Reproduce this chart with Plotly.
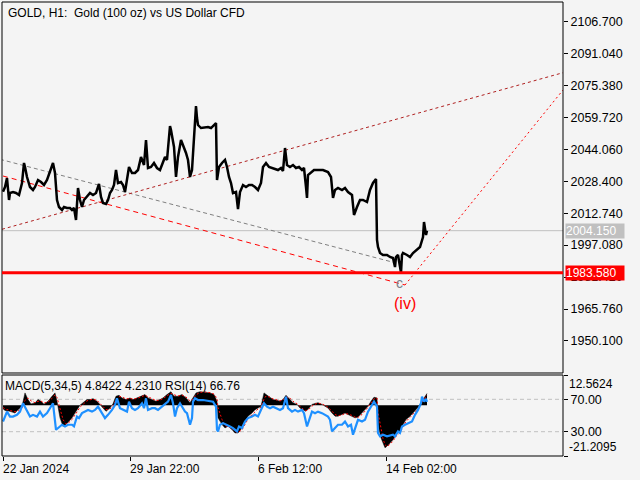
import plotly.graph_objects as go

# ---------------- data ----------------
price_bars = [0, 2, 4, 6, 7, 10, 13, 16, 19, 21, 22, 24, 27, 30, 32, 35, 38, 41, 44, 47, 50, 51, 52, 54, 56,
              59, 61, 64, 67, 69, 71, 73, 74, 75, 77, 79, 81, 84, 87, 90, 93, 96, 98, 100, 103, 105, 107, 109,
              111, 113, 115, 118, 120, 122, 124, 126, 129, 132, 135, 138, 141, 143, 145, 148, 151, 154, 157,
              160, 162, 164, 167, 168, 169, 171, 173, 175, 178, 181, 183, 185, 187, 189, 191, 193, 194, 195,
              198, 202, 205, 208, 211, 213, 214, 216, 219, 222, 224, 226, 228, 230, 233, 235, 237, 240, 243,
              246, 249, 252, 255, 258, 260, 263, 266, 269, 272, 275, 278, 280, 282, 284, 287, 290, 293, 296,
              299, 301, 303, 304, 305, 308, 311, 315, 320, 325, 328, 330, 332, 335, 339, 342, 345, 349, 351,
              354, 357, 360, 364, 367, 370, 373, 374, 375, 377, 380, 384, 387, 390, 392, 393, 395, 398, 399,
              400, 404, 407, 410, 414, 417, 420, 421, 423, 424]
price_close = [2023.25, 2025.54, 2029.95, 2019.17, 2022.60, 2023.09, 2022.60, 2021.62, 2027.50, 2037.30,
               2035.33, 2030.44, 2025.54, 2024.07, 2025.54, 2028.97, 2027.99, 2026.52, 2028.97, 2032.89,
               2037.30, 2034.85, 2032.40, 2019.17, 2015.74, 2014.27, 2015.74, 2015.25, 2015.25, 2014.27,
               2015.25, 2009.37, 2015.25, 2025.05, 2019.17, 2015.74, 2019.17, 2020.64, 2022.60, 2021.62,
               2022.60, 2027.01, 2020.64, 2017.70, 2017.21, 2019.17, 2022.60, 2024.07, 2026.52, 2033.87,
               2027.50, 2027.99, 2026.52, 2023.09, 2030.44, 2035.33, 2032.40, 2032.40, 2033.87, 2040.24,
               2036.32, 2048.56, 2034.85, 2035.33, 2037.30, 2034.85, 2033.87, 2037.79, 2040.24, 2038.77,
               2055.42, 2053.46, 2050.03, 2045.13, 2030.44, 2040.24, 2048.56, 2045.13, 2042.19, 2038.77,
               2030.44, 2033.87, 2051.99, 2065.22, 2059.34, 2055.91, 2054.44, 2054.93, 2054.93, 2054.44,
               2055.91, 2056.89, 2028.97, 2035.33, 2037.30, 2038.77, 2035.33, 2030.44, 2027.50, 2022.60,
               2023.09, 2014.76, 2023.09, 2026.52, 2025.54, 2026.52, 2026.52, 2025.54, 2024.07, 2027.50,
               2035.33, 2037.30, 2035.33, 2034.85, 2034.36, 2033.87, 2034.85, 2033.38, 2044.64, 2036.32,
               2035.33, 2036.32, 2034.85, 2035.33, 2033.87, 2034.85, 2025.54, 2020.15, 2031.42, 2032.89,
               2033.87, 2033.87, 2033.87, 2032.89, 2030.44, 2020.15, 2024.07, 2025.05, 2024.07, 2025.05,
               2023.09, 2021.62, 2011.83, 2015.74, 2019.17, 2019.17, 2018.19, 2024.07, 2027.50, 2029.46,
               1999.57, 1996.14, 1993.21, 1992.23, 1992.23, 1991.25, 1990.75, 1986.34, 1991.25, 1992.23,
               1983.58, 1992.23, 1993.21, 1992.23, 1991.25, 1993.21, 1994.68, 1996.14, 2001.04, 2008.39,
               2002.03, 2004.15]

rsi_bars = [0, 4, 7, 10, 14, 17, 20, 24, 27, 30, 34, 37, 40, 44, 47, 50, 53, 55, 59, 62, 65, 69, 71, 74, 76,
            79, 82, 85, 89, 92, 95, 99, 102, 105, 109, 112, 114, 117, 120, 124, 126, 129, 132, 135, 139, 141,
            143, 145, 149, 152, 155, 159, 162, 165, 168, 170, 172, 174, 177, 180, 182, 184, 187, 189, 190,
            192, 195, 200, 205, 210, 213, 214, 215, 217, 220, 224, 227, 230, 234, 236, 239, 242, 245, 249,
            252, 255, 259, 261, 264, 267, 270, 274, 277, 280, 283, 285, 289, 292, 295, 299, 301, 304, 306,
            309, 312, 315, 319, 322, 325, 327, 329, 332, 335, 339, 342, 345, 348, 350, 353, 355, 359, 362,
            365, 369, 371, 374, 375, 377, 380, 384, 387, 390, 392, 395, 397, 399, 402, 405, 409, 412, 415,
            418, 419, 421, 423, 424]
rsi_vals = [42.6, 54.8, 48.7, 48.7, 50.8, 54.8, 65.1, 54.8, 48.7, 50.8, 48.7, 54.8, 48.7, 52.9, 59.0, 65.1,
            32.4, 34.5, 38.6, 36.5, 38.6, 38.6, 36.5, 48.7, 46.8, 52.9, 54.8, 56.9, 54.8, 56.9, 60.9, 52.9,
            46.8, 50.8, 56.9, 63.0, 71.2, 59.0, 56.9, 54.8, 67.1, 59.0, 56.9, 59.0, 65.1, 59.0, 71.2, 56.9,
            59.0, 59.0, 56.9, 60.9, 63.0, 67.1, 75.3, 65.1, 48.7, 59.0, 65.1, 59.0, 54.8, 52.9, 38.6, 46.8,
            67.1, 71.2, 69.1, 69.1, 67.9, 67.1, 60.9, 32.4, 30.4, 38.6, 40.6, 38.6, 36.5, 34.5, 30.4, 36.5,
            34.5, 42.6, 46.8, 48.7, 50.8, 48.7, 59.0, 65.1, 60.9, 59.0, 60.9, 59.0, 56.9, 59.0, 73.2, 59.0,
            54.8, 56.9, 54.8, 56.9, 52.9, 36.5, 44.7, 54.8, 52.9, 54.8, 52.9, 50.8, 48.7, 44.7, 30.4, 34.5,
            38.6, 38.6, 42.6, 36.5, 38.6, 26.3, 38.6, 44.7, 42.6, 44.7, 54.8, 63.0, 67.1, 60.9, 28.4, 24.3,
            26.3, 24.3, 25.5, 26.3, 24.3, 30.4, 28.4, 36.5, 38.6, 40.6, 42.6, 50.8, 56.9, 65.1, 73.2, 67.1,
            70.5, 66.76]

macd_bars = [0, 2, 7, 12, 15, 19, 22, 25, 28, 32, 35, 38, 41, 45, 49, 52, 54, 57, 60, 63, 66, 69, 72, 75, 77,
             80, 84, 87, 90, 94, 97, 100, 103, 107, 110, 113, 116, 119, 123, 127, 130, 134, 138, 142, 145,
             149, 153, 157, 160, 164, 168, 171, 175, 179, 183, 187, 190, 193, 197, 202, 207, 211, 214, 215,
             219, 222, 225, 229, 232, 235, 239, 242, 245, 249, 252, 255, 258, 261, 263, 267, 270, 274, 277,
             280, 283, 287, 290, 294, 297, 300, 303, 306, 309, 312, 315, 319, 322, 325, 329, 332, 335, 339,
             342, 345, 349, 352, 355, 359, 362, 365, 368, 371, 374, 375, 378, 380, 382, 384, 387, 390, 393,
             397, 400, 403, 407, 410, 413, 416, 418, 421, 423, 424]
macd_hist = [-1.5, -2.2, -2.6, -3.3, -1.9, -0.5, 5.1, 2.3, 0.5, 0.9, 2.3, 1.6, 0.4, 1.6, 3.7, 5.1, 1.6, -5.3,
             -8.8, -8.1, -6.7, -5.3, -3.3, -1.2, 0.0, 1.0, 2.3, 2.3, 2.7, 1.6, 0.0, -1.2, -2.6, -1.2, 0.6, 3.7,
             4.1, 3.0, 2.3, 3.0, 2.3, 3.0, 3.7, 4.4, 3.0, 2.3, 1.6, 2.3, 3.0, 4.4, 5.6, 3.7, 3.7, 4.4, 3.0,
             1.0, 3.0, 5.1, 5.6, 5.5, 5.1, 4.4, 1.6, -5.3, -8.1, -9.5, -8.8, -10.2, -11.6, -11.6, -9.5, -6.7,
             -4.6, -3.3, -1.9, -1.2, -0.5, 5.1, 4.4, 3.0, 2.3, 2.0, 1.6, 2.3, 4.1, 2.3, 1.0, 0.3, -1.2, -1.9,
             -2.6, -1.2, 0.3, 0.7, 1.0, 0.3, -0.5, -1.2, -3.3, -4.6, -4.6, -3.9, -3.3, -3.9, -4.6, -5.3, -5.0,
             -3.3, -1.9, -0.5, 1.6, 3.3, 3.0, -8.1, -13.7, -15.8, -17.8, -17.1, -15.8, -14.4, -12.3, -10.9,
             -8.1, -6.0, -4.6, -3.3, -1.9, -0.5, 1.0, 3.0, 4.4, 4.8422]
macd_signal = [-1.0, -1.6, -2.2, -2.8, -2.5, -1.2, 2.0, 3.0, 1.8, 1.0, 1.6, 1.7, 0.9, 1.3, 2.8, 4.3, 3.2,
               -1.5, -6.0, -7.8, -7.2, -6.0, -4.3, -2.2, -0.8, 0.5, 1.8, 2.2, 2.5, 2.0, 0.8, -0.5, -1.9,
               -1.6, -0.3, 2.3, 3.6, 3.4, 2.6, 2.8, 2.5, 2.8, 3.4, 4.1, 3.5, 2.7, 1.9, 2.1, 2.7, 3.9, 5.0,
               4.3, 3.8, 4.2, 3.4, 1.8, 2.4, 4.3, 5.3, 5.5, 5.2, 4.6, 2.8, -1.0, -6.0, -8.5, -8.9, -9.7,
               -11.0, -11.4, -10.3, -8.0, -5.8, -4.0, -2.6, -1.6, -0.8, 2.5, 3.8, 3.3, 2.6, 2.2, 1.8, 2.0,
               3.4, 2.9, 1.6, 0.6, -0.6, -1.6, -2.3, -1.7, -0.4, 0.4, 0.8, 0.5, -0.1, -0.9, -2.5, -3.9,
               -4.4, -4.1, -3.5, -3.7, -4.3, -5.0, -5.1, -3.9, -2.5, -1.0, 0.9, 2.6, 3.0, -3.0, -10.5,
               -14.0, -16.5, -17.3, -16.3, -15.0, -13.0, -11.5, -9.0, -6.8, -5.1, -3.8, -2.4, -1.0, 0.5,
               2.3, 3.8, 4.231]

price_ticks = [2106.700, 2091.040, 2075.380, 2059.720, 2044.060, 2028.400, 2012.740,
               1997.080, 1981.420, 1965.760, 1950.100]
time_tick_bars = [0, 127, 255, 383]
time_tick_labels = ["22 Jan 2024", "29 Jan 22:00", "6 Feb 12:00", "14 Feb 02:00"]

last_price = 2004.150
support_level = 1983.580
macd_max = 12.5624
macd_min = -21.2095
rsi_levels = [70, 30]

# chart objects (trendline end points: bar index, price)
grey_line_bars, grey_line_prices = [-3, 393], [2039.11, 1988.31]
red_dash_bars, red_dash_prices = [0, 402], [2030.93, 1977.53]
red_dot_bars, red_dot_prices = [402, 560], [1977.53, 2073.06]
brown_dot_bars, brown_dot_prices = [-1, 560], [2004.82, 2081.53]
wave_c = (396, 1978.3)
wave_iv = (402, 1968.46)

FONT = "Liberation Sans"
BG = "#f4f4f4"
main_bottom = 0.18282
ind_top = 0.17841

fig = go.Figure()

# main panel lines
fig.add_trace(go.Scatter(x=grey_line_bars, y=grey_line_prices, mode="lines",
                         line=dict(color="#808080", width=1, dash="4px,3px"), xaxis="x", yaxis="y"))
fig.add_trace(go.Scatter(x=red_dash_bars, y=red_dash_prices, mode="lines",
                         line=dict(color="#ff0000", width=1, dash="5px,4px"), xaxis="x", yaxis="y"))
fig.add_trace(go.Scatter(x=red_dot_bars, y=red_dot_prices, mode="lines",
                         line=dict(color="#ff0000", width=1, dash="2px,3px"), xaxis="x", yaxis="y"))
fig.add_trace(go.Scatter(x=brown_dot_bars, y=brown_dot_prices, mode="lines",
                         line=dict(color="#b02020", width=1, dash="3px,3px"), xaxis="x", yaxis="y"))
fig.add_trace(go.Scatter(x=price_bars, y=price_close, mode="lines",
                         line=dict(color="black", width=2.5), xaxis="x", yaxis="y"))

# indicator panel
fig.add_trace(go.Scatter(x=macd_bars, y=macd_hist, mode="lines", fill="tozeroy",
                         fillcolor="black", line=dict(color="black", width=0.5), xaxis="x", yaxis="y2"))
fig.add_trace(go.Scatter(x=macd_bars, y=macd_signal, mode="lines",
                         line=dict(color="#ff0000", width=1, dash="2px,2px"), xaxis="x", yaxis="y2"))
fig.add_trace(go.Scatter(x=rsi_bars, y=rsi_vals, mode="lines",
                         line=dict(color="#1e90ff", width=2.2), xaxis="x", yaxis="y3"))

shapes = [
    dict(type="rect", xref="paper", yref="paper", x0=0, x1=1, y0=main_bottom, y1=1,
         line=dict(color="black", width=1), layer="above"),
    dict(type="rect", xref="paper", yref="paper", x0=0, x1=1, y0=0, y1=ind_top,
         line=dict(color="black", width=1), layer="above"),
    dict(type="line", xref="paper", yref="y", x0=0, x1=1, y0=last_price, y1=last_price,
         line=dict(color="#c0c0c0", width=1), layer="below"),
    dict(type="line", xref="paper", yref="y", x0=0, x1=1, y0=support_level, y1=support_level,
         line=dict(color="#ff0000", width=3), layer="above"),
]
for lv in rsi_levels:
    shapes.append(dict(type="line", xref="paper", yref="y3", x0=0, x1=1, y0=lv, y1=lv,
                       line=dict(color="#c0c0c0", width=1, dash="4px,3px"), layer="below"))

annotations = [
    dict(text="GOLD, H1:  Gold (100 oz) vs US Dollar CFD", xref="paper", yref="paper", x=0, y=1,
         xanchor="left", yanchor="top", xshift=4, yshift=-2, showarrow=False,
         font=dict(family=FONT, size=12, color="black")),
    dict(text="MACD(5,34,5) 4.8422 4.2310 RSI(14) 66.76", xref="paper", yref="paper", x=0, y=ind_top,
         xanchor="left", yanchor="top", xshift=1, yshift=-2, showarrow=False,
         font=dict(family=FONT, size=12, color="black")),
    dict(text="%.3f" % last_price, xref="paper", yref="y", x=1, y=last_price, xanchor="left",
         yanchor="middle", xshift=2, showarrow=False, bgcolor="#c0c0c0", width=58, align="left",
         font=dict(family=FONT, size=12, color="white"), borderpad=0),
    dict(text="%.3f" % support_level, xref="paper", yref="y", x=1, y=support_level, xanchor="left",
         yanchor="middle", xshift=2, showarrow=False, bgcolor="#ff0000", width=58, align="left",
         font=dict(family=FONT, size=12, color="white"), borderpad=0),
    dict(text="c", xref="x", yref="y", x=wave_c[0], y=wave_c[1], showarrow=False,
         font=dict(family=FONT, size=14, color="#7a7f8a")),
    dict(text="(iv)", xref="x", yref="y", x=wave_iv[0], y=wave_iv[1], showarrow=False,
         font=dict(family=FONT, size=16, color="#ff0000")),
    dict(text="%.4f" % macd_max, xref="paper", yref="y2", x=1, y=macd_max, xanchor="left",
         yanchor="top", xshift=4, showarrow=False, font=dict(family=FONT, size=12, color="black")),
    dict(text="%.4f" % macd_min, xref="paper", yref="y2", x=1, y=macd_min, xanchor="left",
         yanchor="bottom", xshift=4, showarrow=False, font=dict(family=FONT, size=12, color="black")),
]
for b, t in zip(time_tick_bars, time_tick_labels):
    annotations.append(dict(text=t, xref="x", yref="paper", x=b, y=0, xanchor="left", yanchor="top",
                            yshift=-4, xshift=-2, showarrow=False,
                            font=dict(family=FONT, size=12, color="black")))

fig.update_layout(
    width=640, height=480,
    margin=dict(l=2, r=77, t=2, b=24),
    paper_bgcolor=BG, plot_bgcolor=BG,
    showlegend=False,
    font=dict(family=FONT, size=12, color="black"),
    xaxis=dict(range=[-1, 560], domain=[0, 1], anchor="y2", showgrid=False, zeroline=False,
               tickmode="array", tickvals=time_tick_bars, ticks="outside", ticklen=4,
               tickcolor="black", showticklabels=False, showline=False),
    yaxis=dict(domain=[main_bottom, 1], range=[1934.42, 2116.17], side="right", anchor="x",
               tickmode="array", tickvals=price_ticks, ticktext=["%.3f" % v for v in price_ticks],
               ticks="outside", ticklen=4, tickcolor="black", showgrid=False, zeroline=False,
               showline=False, tickfont=dict(family=FONT, size=12.5, color="black")),
    yaxis2=dict(domain=[0, ind_top], range=[macd_min, macd_max], side="right", anchor="x",
                tickmode="array", tickvals=[macd_max, macd_min], ticktext=["", ""],
                ticks="outside", ticklen=4, tickcolor="black", showgrid=False, zeroline=False,
                showline=False),
    yaxis3=dict(overlaying="y2", range=[0, 100], side="right", anchor="x",
                tickmode="array", tickvals=rsi_levels, ticktext=["%.2f" % v for v in rsi_levels],
                ticks="outside", ticklen=4, tickcolor="black", showgrid=False, zeroline=False,
                showline=False, tickfont=dict(family=FONT, size=12.5, color="black")),
    shapes=shapes,
    annotations=annotations,
)

fig.write_html("out.html", config={"displayModeBar": False, "staticPlot": True},
               post_script="document.body.style.margin='0px';document.body.style.background='#f4f4f4';")
